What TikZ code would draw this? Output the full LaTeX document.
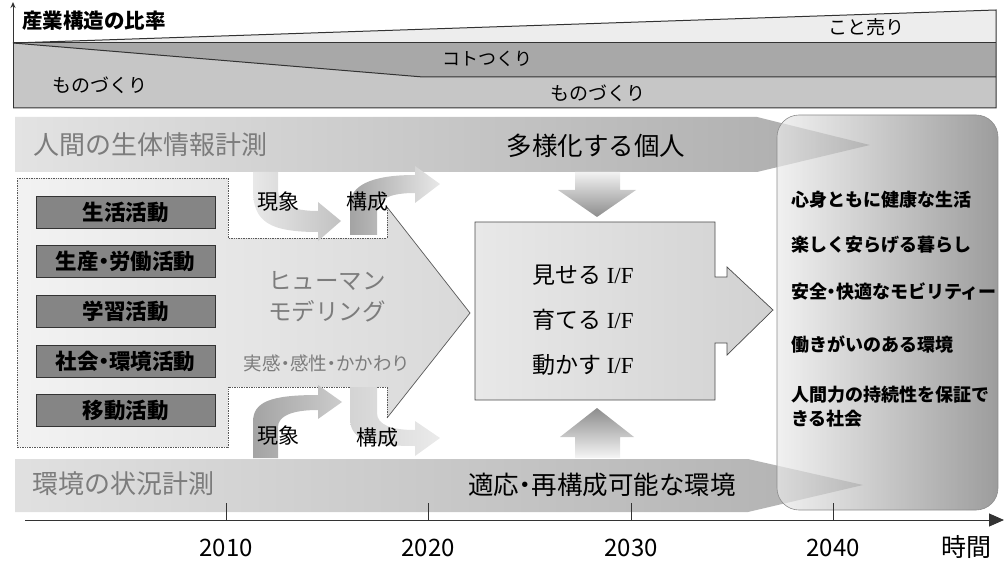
\documentclass[tikz,border=0pt]{standalone}
\usepackage{fontspec}
\setmainfont{Noto Sans CJK JP}
\newfontfamily\ifserif{Liberation Serif}
\usetikzlibrary{arrows.meta}
\definecolor{lineD}{HTML}{333333}
\definecolor{bandTop}{HTML}{EDEDED}
\definecolor{bandMid}{HTML}{A8A8A8}
\definecolor{bandLow}{HTML}{C6C6C6}
\definecolor{grayTxt}{HTML}{7C7C7C}
\definecolor{actFill}{HTML}{858585}
\newcommand\fsz[1]{\fontsize{#1}{#1}\selectfont}
\newcommand\nbdot{\makebox[0.5em]{・}}
\tikzset{
  chartline/.style={draw=lineD, line width=1pt},
  actbox/.style={draw=lineD, line width=0.8pt, fill=actFill, minimum width=179pt, minimum height=32pt, font=\fsz{21.5}\bfseries},
  paneltxt/.style={anchor=west, font=\fsz{18}\bfseries},
  yearlbl/.style={font=\fsz{24}},
  tick/.style={draw=lineD, line width=0.8pt},
  iftxt/.style={anchor=west, font=\fsz{23}},
}
\begin{document}
\begin{tikzpicture}[x=1pt,y=-1pt, every node/.style={inner sep=0pt, outer sep=0pt}]
\useasboundingbox (0,0) rectangle (1008,561);

% ---------- industry structure chart ----------
\fill[bandLow] (13,43) -- (423,77) -- (996,77) -- (996,108) -- (13,108) -- cycle;
\fill[bandMid] (13,43) -- (996,43) -- (996,77) -- (423,77) -- cycle;
\fill[bandTop] (13,43) -- (996,10) -- (996,43) -- cycle;
\draw[chartline] (13,43) -- (996,10) -- (996,108) -- (13,108);
\draw[chartline] (13,43) -- (996,43);
\draw[chartline] (13,43) -- (423,77) -- (996,77);
\coordinate (v0) at (13,108);
\coordinate (v1) at (13,2);
\draw[lineD, line width=1pt, -{Stealth[length=6pt,width=5pt]}] (v0) -- (v1);

\node[font=\fsz{20.5}\bfseries] (ttl) at (94,21) {産業構造の比率};
\node[font=\fsz{19}] (kotouri) at (866,27) {こと売り};
\node[font=\fsz{18}] (kotozukuri) at (487,59) {コトつくり};
\node[font=\fsz{19}] (mono1) at (100,85) {ものづくり};
\node[font=\fsz{19}] (mono2) at (598,93) {ものづくり};

% ---------- horizontal measurement bands ----------
\path[left color=black!11, right color=black!33] (15,117) -- (757,117) -- (870,145) -- (757,172) -- (15,172) -- cycle;
\path[left color=black!12, right color=black!31] (15,459) -- (748,459) -- (863,485) -- (748,512) -- (15,512) -- cycle;

% ---------- right panel ----------
\path[left color=black!8, right color=black!55, fill opacity=0.7, rounded corners=22pt]
  (777,115) rectangle (998,510);
\draw[black!45, line width=0.6pt, rounded corners=22pt] (777,115) rectangle (998,510);

% ---------- human modelling arrow / activity container ----------
\path[left color=black!5, right color=black!15]
  (17,178) -- (228,178) -- (228,238) -- (387,238) -- (387,207) -- (470,313) -- (387,418) -- (387,387) -- (228,387) -- (228,447) -- (17,447) -- cycle;
\draw[black!65, line width=0.7pt, densely dotted]
  (17,178) -- (228,178) -- (228,238) -- (387,238) -- (387,207);
\draw[black!65, line width=0.7pt]
  (387,207) -- (470,313) -- (387,418);
\draw[black!65, line width=0.7pt, densely dotted]
  (387,418) -- (387,387) -- (228,387) -- (228,447) -- (17,447) -- (17,178);

\node[actbox] (a1) at (125.5,212) {生活活動};
\node[actbox] (a2) at (125.5,261.5) {生産\nbdot 労働活動};
\node[actbox] (a3) at (125.5,311) {学習活動};
\node[actbox] (a4) at (125.5,361) {社会\nbdot 環境活動};
\node[actbox] (a5) at (125.5,410) {移動活動};

% curved arrows (phenomenon -> construction)
\path[left color=black!9, right color=black!24]
  (253,172) -- (253,190) .. controls (253,222) and (270,232) .. (318,232) -- (318,241) -- (341,221) -- (318,202) -- (318,211) .. controls (292,211) and (278,204) .. (278,190) -- (278,172) -- cycle;
\path[left color=black!36, right color=black!9]
  (350,235) -- (350,205) .. controls (350,186) and (370,175) .. (415,175) -- (415,166) -- (440,184) -- (415,203) -- (415,193) .. controls (392,193) and (377,198) .. (377,212) -- (377,235) -- cycle;
\path[left color=black!36, right color=black!20]
  (253,458) -- (253,422) .. controls (253,402) and (270,395) .. (318,395) -- (318,385) -- (342,402) -- (318,419) -- (318,410) .. controls (292,410) and (278,416) .. (278,427) -- (278,458) -- cycle;
\path[left color=black!17, right color=black!8]
  (350,387) -- (350,418) .. controls (350,438) and (365,446) .. (415,446) -- (415,456) -- (440,438) -- (415,421) -- (415,430) .. controls (392,430) and (377,425) .. (377,413) -- (377,387) -- cycle;

% ---------- interface box ----------
\path[left color=black!9, right color=black!18]
  (475,222) -- (715,222) -- (715,277) -- (727,277) -- (727,267) -- (773,310) -- (727,355) -- (727,343) -- (715,343) -- (715,400) -- (475,400) -- cycle;
\draw[black!70, line width=0.7pt]
  (475,222) -- (715,222) -- (715,277) -- (727,277) -- (727,267) -- (773,310) -- (727,355) -- (727,343) -- (715,343) -- (715,400) -- (475,400) -- cycle;

% down / up arrows
\path[top color=black!5, bottom color=black!45]
  (575,172) -- (620,172) -- (620,190) -- (636,190) -- (597,217) -- (558,190) -- (575,190) -- cycle;
\path[top color=black!45, bottom color=black!4]
  (597,408) -- (634,437) -- (620,437) -- (620,458) -- (575,458) -- (575,437) -- (560,437) -- cycle;

% ---------- time axis ----------
\coordinate (ax0) at (25,520);
\coordinate (ax1) at (1004,520);
\draw[lineD, line width=1pt, -{Triangle[length=15pt,width=13pt]}] (ax0) -- (ax1);
\foreach \xx in {226,428,631,833} {\draw[tick] (\xx,503) -- (\xx,521);}
\node[yearlbl] (y1) at (226,548) {2010};
\node[yearlbl] (y2) at (428,548) {2020};
\node[yearlbl] (y3) at (631,548) {2030};
\node[yearlbl] (y4) at (833,548) {2040};
\node[font=\fsz{25}] (jikan) at (966,547) {時間};

% ---------- texts ----------
\node[font=\fsz{26}, text=grayTxt] (bio) at (150,145) {人間の生体情報計測};
\node[font=\fsz{25.5}] (tayo) at (596,146) {多様化する個人};
\node[font=\fsz{26}, text=grayTxt] (env) at (123,484) {環境の状況計測};
\node[font=\fsz{25.5}] (adapt) at (602,485) {適応\nbdot 再構成可能な環境};

\node[font=\fsz{23.5}, text=grayTxt] (hm1) at (327,281) {ヒューマン};
\node[font=\fsz{23.5}, text=grayTxt] (hm2) at (327,311) {モデリング};
\node[font=\fsz{18.5}, text=grayTxt] (jk) at (327,363) {実感\nbdot 感性\nbdot かかわり};

\node[font=\fsz{21}] (gs1) at (278,202) {現象};
\node[font=\fsz{21}] (ks1) at (367,202) {構成};
\node[font=\fsz{21}] (gs2) at (278,436) {現象};
\node[font=\fsz{21}] (ks2) at (377,438) {構成};

\node[iftxt] (if1) at (532,275) {見せる{\ifserif\ I/F}};
\node[iftxt] (if2) at (532,320) {育てる{\ifserif\ I/F}};
\node[iftxt] (if3) at (532,365) {動かす{\ifserif\ I/F}};

\node[paneltxt] (p1) at (791,200) {心身ともに健康な生活};
\node[paneltxt] (p2) at (791,245) {楽しく安らげる暮らし};
\node[paneltxt] (p3) at (791,292) {安全\nbdot 快適なモビリティー};
\node[paneltxt] (p4) at (791,345) {働きがいのある環境};
\node[paneltxt] (p5) at (791,395) {人間力の持続性を保証で};
\node[paneltxt] (p6) at (791,419) {きる社会};
\end{tikzpicture}
\end{document}
